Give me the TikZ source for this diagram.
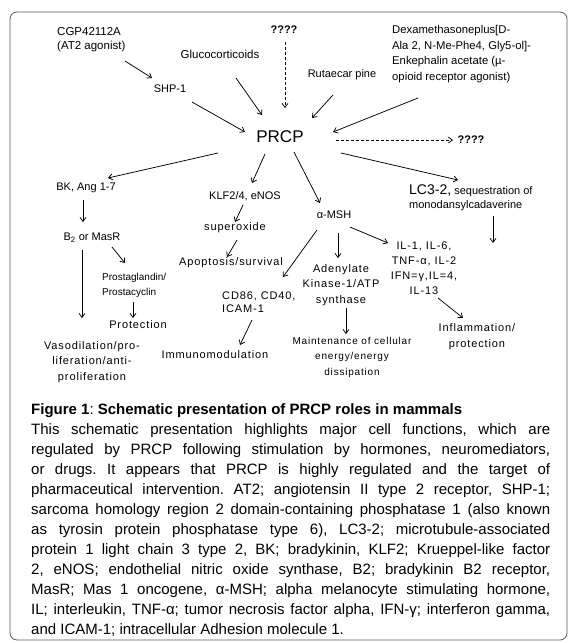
\documentclass[tikz,border=0pt]{standalone}
\usepackage{fontspec}
\setmainfont{Liberation Sans}
\newfontfamily\widefont[LetterSpace=8]{Liberation Sans}
\usetikzlibrary{arrows.meta,calc}
\newcommand{\lblsize}{\fontsize{11}{15.5}\selectfont}
\newcommand{\widesize}{\widefont\fontsize{11}{15.5}\selectfont}

\begin{document}
\begin{tikzpicture}[x=1pt,y=-1pt,
  every node/.style={inner sep=1pt,font=\lblsize},
  arr/.style={-{Straight Barb[length=4pt,width=6pt]},line width=0.75pt},
  darr/.style={arr,dash pattern=on 3pt off 2pt},
  wide/.style={font=\widesize},
  qmark/.style={font=\lblsize\bfseries}]
\useasboundingbox (0,0) rectangle (575,643);
%frame round picture and caption
\draw[black!65,line width=0.8pt,rounded corners=7pt] (10,12) rectangle (567,640);
%inputs
\node (cgp) [anchor=west,align=left,font=\fontsize{11.5}{14}\selectfont] at (56,40) {CGP42112A\\(AT2 agonist)};
\node (gluco) [font=\fontsize{11.5}{14}\selectfont] at (220,54) {Glucocorticoids};
\node (qtop) [qmark] at (284,30) {????};
\node (shp) at (170,89) {SHP-1};
\node (rut) at (342,75) {Rutaecar pine};
\node (dex) [anchor=west,align=left,font=\fontsize{11.3}{15.7}\selectfont] at (391,54) {Dexamethasoneplus[D-\\Ala 2, N-Me-Phe4, Gly5-ol]-\\Enkephalin acetate (µ-\\opioid receptor agonist)};
%center
\node (prcp) [font=\fontsize{17}{20}\selectfont] at (280,137) {PRCP};
\node (qright) [qmark] at (471,140) {????};
%outputs
\node (bk) at (86,188) {BK, Ang 1-7};
\node (klf) at (245,196) {KLF2/4, eNOS};
\node (msh) at (334,215) {α-MSH};
\node (lc3) [anchor=west,align=left,font=\fontsize{11}{14}\selectfont] at (408,198) {{\fontsize{14}{14}\selectfont LC3-2,} sequestration of\\monodansylcadaverine};
\coordinate (lc3end) at (493,243);
\node (b2) at (92,238) {B\textsubscript{2} or MasR};
\node (sup) [wide] at (235,228) {superoxide};
\node (apo) [wide] at (231,263) {Apoptosis/survival};
\node (prost) [anchor=west,align=left,font=\fontsize{10}{15}\selectfont] at (101,285) {Prostaglandin/\\Prostacyclin};
\node (prot) [wide] at (138,325) {Protection};
\node (vaso) [wide,align=center] at (92,362) {Vasodilation/pro-\\liferation/anti-\\proliferation};
\node (cd) [anchor=west,align=left,font=\widefont\fontsize{11}{13.5}\selectfont] at (221,302) {CD86, CD40,\\ICAM-1};
\node (immu) [wide] at (215,355) {Immunomodulation};
\node (aden) [wide,align=center] at (341,285) {Adenylate\\Kinase-1/ATP\\synthase};
\node (maint) [align=center,font=\widefont\fontsize{10}{15.5}\selectfont] at (352,357) {Maintenance of cellular\\energy/energy\\dissipation};
\node (il) [align=center,font=\widefont\fontsize{11}{15}\selectfont] at (424,268) {IL-1, IL-6,\\TNF-α, IL-2\\IFN=γ,IL=4,\\IL-13};
\node (infl) [align=center,font=\widefont\fontsize{11}{16}\selectfont] at (477,337) {Inflammation/\\protection};
% arrows into PRCP
\draw[arr] ($(cgp.west)+(69,21)$) -- ($(shp)+(-18,-11)$);
\draw[arr] ($(shp)+(22,13)$) -- ($(prcp)+(-35,-5)$);
\draw[arr] ($(gluco)+(16,24)$) -- ($(prcp)+(-18,-22)$);
\draw[darr] ($(qtop)+(1,12)$) -- ($(prcp)+(5,-29)$);
\draw[arr] ($(rut)+(-9,20)$) -- ($(prcp)+(32,-19)$);
\draw[arr] ($(dex.west)+(27,44)$) -- ($(prcp)+(53,-5)$);
% arrows out of PRCP
\draw[darr] ($(prcp)+(56,3)$) -- ($(qright)+(-18,0)$);
\draw[arr] ($(prcp)+(61,16)$) -- ($(lc3.west)+(50,-18)$);
\draw[arr] ($(prcp)+(14,15)$) -- ($(msh)+(-14,-12)$);
\draw[arr] ($(prcp)+(-15,17)$) -- ($(klf)+(7,-13)$);
\draw[arr] ($(prcp)+(-62,16)$) -- ($(bk)+(22,-10)$);
% left branch
\draw[arr] ($(bk)+(-3,12)$) -- ($(b2)+(-9,-16)$);
\draw[arr] ($(b2)+(-10,12)$) -- ($(vaso)+(-10,-44)$);
\draw[arr] ($(b2)+(20,9)$) -- ($(prost.west)+(24,-22)$);
\draw[arr] ($(prost.west)+(32,17)$) -- ($(prot)+(-5,-7)$);
% middle branch
\draw[arr] ($(klf)+(-2,9)$) -- ($(sup)+(0,-6)$);
\draw[arr] ($(sup)+(2,12)$) -- ($(apo)+(-4,-6)$);
\draw[arr] ($(msh)+(-17,15)$) -- ($(cd.west)+(62,-25)$);
\draw[arr] ($(cd.west)+(31,18)$) -- ($(immu)+(25,-10)$);
\draw[arr] ($(msh)+(4,18)$) -- ($(aden)+(-3,-27)$);
\draw[arr] ($(aden)+(5,23)$) -- ($(maint)+(-6,-23)$);
\draw[arr] ($(msh)+(16,12)$) -- ($(il)+(-36,-25)$);
\draw[arr] ($(il)+(14,30)$) -- ($(infl)+(-14,-19)$);
% right branch
\draw[arr] ($(lc3.west)+(85,18)$) -- (lc3end);
%caption
\node (cap) [anchor=north west,inner sep=0pt,text width=519pt,align=justify,
  font=\fontsize{15}{20}\selectfont] at (31,403) {\tolerance=10000 \frenchspacing
\textbf{Figure 1}: \textbf{Schematic presentation of PRCP roles in mammals}\\
This schematic presentation highlights major cell functions, which are\linebreak
regulated by PRCP following stimulation by hormones, neuromediators,\linebreak
or drugs. It appears that PRCP is highly regulated and the target of\linebreak
pharmaceutical intervention. AT2; angiotensin II type 2 receptor, SHP-1;\linebreak
sarcoma homology region 2 domain-containing phosphatase 1 (also known\linebreak
as tyrosin protein phosphatase type 6), LC3-2; microtubule-associated\linebreak
protein 1 light chain 3 type 2, BK; bradykinin, KLF2; Krueppel-like factor\linebreak
2, eNOS; endothelial nitric oxide synthase, B2; bradykinin B2 receptor,\linebreak
MasR; Mas 1 oncogene, α-MSH; alpha melanocyte stimulating hormone,\linebreak
IL; interleukin, TNF-α; tumor necrosis factor alpha, IFN-γ; interferon gamma,\linebreak
and ICAM-1; intracellular Adhesion molecule 1.};
\end{tikzpicture}
\end{document}
